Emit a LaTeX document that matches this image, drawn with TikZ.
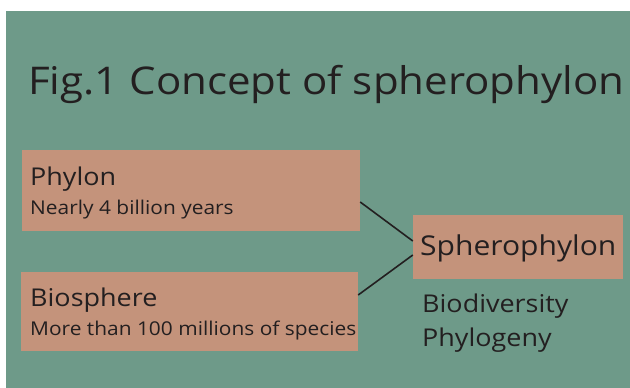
\documentclass[tikz,border=0pt]{standalone}
\usepackage{fontspec}
\setmainfont{Open Sans}[FakeStretch=1.1]
\definecolor{bggreen}{HTML}{6E9A89}
\definecolor{peach}{HTML}{C4937B}
\definecolor{ink}{HTML}{231F20}
\begin{document}
\begin{tikzpicture}[x=1pt,y=-1pt,
  box/.style={fill=peach,draw=none,inner sep=0pt},
  txt/.style={text=ink,inner sep=0pt,anchor=base west},
  link/.style={draw=ink,line width=1.6pt}]
\useasboundingbox (0,0) rectangle (630,388);
\fill[white] (0,0) rectangle (630,388);
\fill[bggreen] (6,11) rectangle (630,388);
\node[txt,font=\fontsize{38.2}{40}\selectfont] (title) at (28,94) {Fig.1 Concept of spherophylon};
\node[box,minimum width=338pt,minimum height=81pt] (phylon) at (191,190.5) {};
\node[box,minimum width=337pt,minimum height=79pt] (bio) at (189.5,311.5) {};
\node[box,minimum width=210pt,minimum height=64pt] (sphero) at (518,247) {};
\node[txt,font=\fontsize{24.5}{26}\selectfont] (t1) at (30,185) {Phylon};
\node[txt,font=\fontsize{19}{20}\selectfont] (t2) at (30,214) {Nearly 4 billion years};
\node[txt,font=\fontsize{24.5}{26}\selectfont] (t3) at (30,306) {Biosphere};
\node[txt,font=\fontsize{19}{20}\selectfont] (t4) at (30,335) {More than 100 millions of species};
\node[txt,font=\fontsize{27.3}{29}\selectfont] (t5) at (420,255) {Spherophylon};
\node[txt,font=\fontsize{24.5}{26}\selectfont] (t6) at (422,312) {Biodiversity};
\node[txt,font=\fontsize{24.5}{26}\selectfont] (t7) at (422,346) {Phylogeny};
\draw[link] ([yshift=-11.5pt]phylon.east) -- ([yshift=6pt]sphero.west);
\draw[link] ([yshift=16.5pt]bio.east) -- ([yshift=-8pt]sphero.west);
\end{tikzpicture}
\end{document}
